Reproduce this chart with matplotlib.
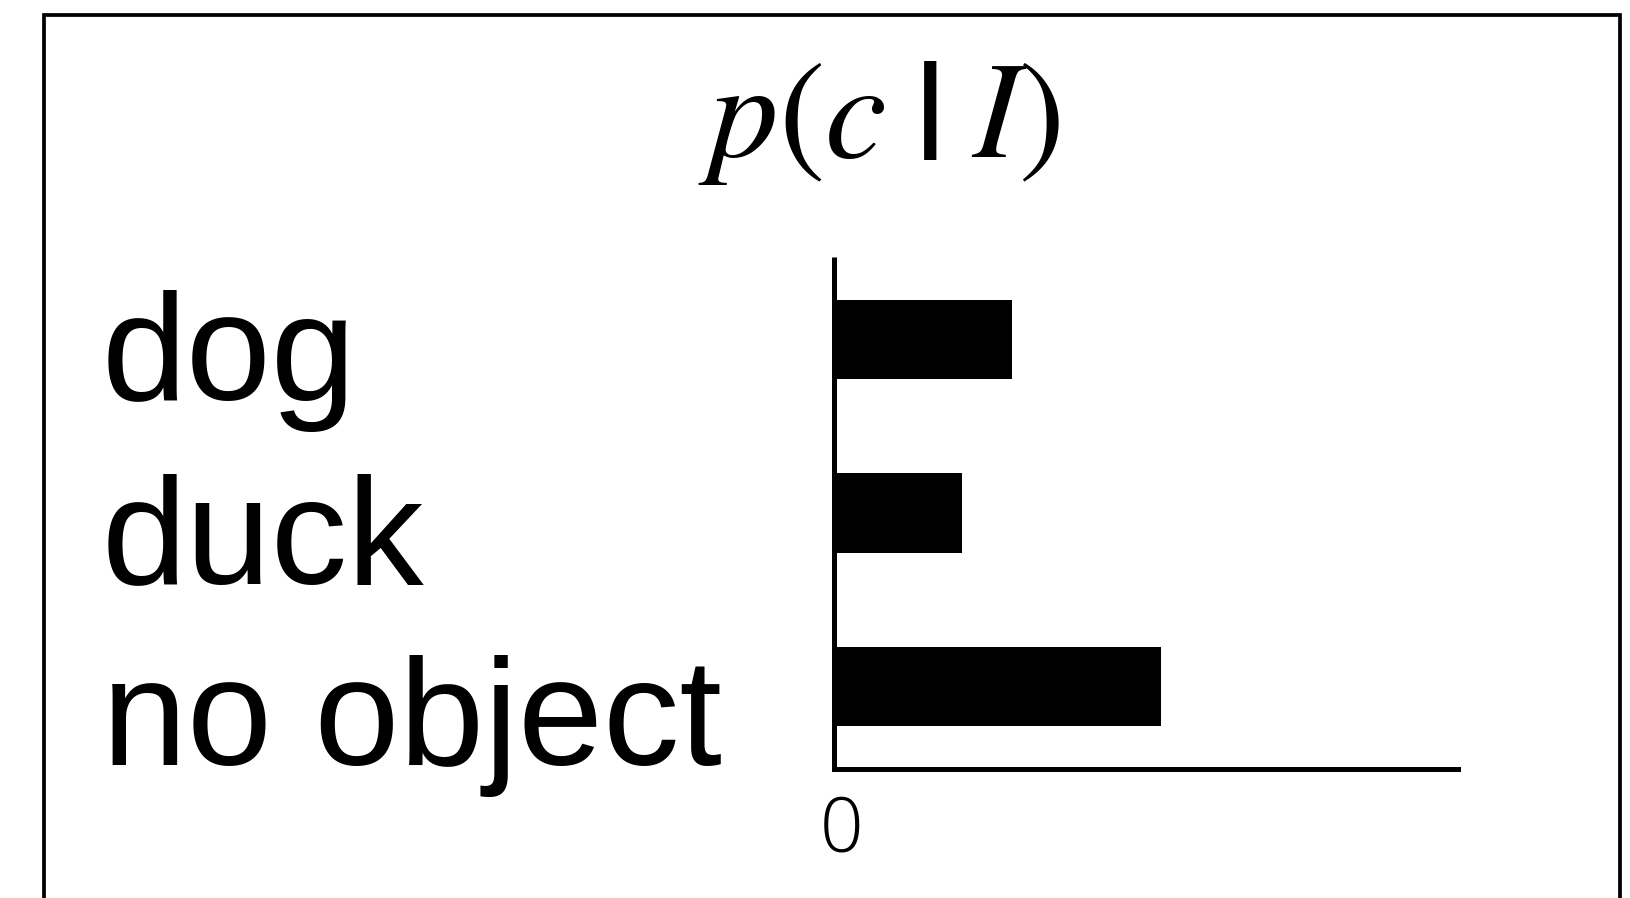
import matplotlib
matplotlib.use("Agg")
import matplotlib.pyplot as plt
import matplotlib.patches as mpatches
from matplotlib.transforms import ScaledTranslation

categories = ["dog", "duck", "no object"]
probs = [0.286, 0.205, 0.524]
xtick_vals = [0]
xtick_labels = ["0"]
title_text = r"$p(c\;\mathbf{|}\;I)$"

plt.rcParams["mathtext.fontset"] = "stix"

W, H = 1630, 898
fig = plt.figure(figsize=(W / 100, H / 100), dpi=100)
fig.patch.set_facecolor("white")

ax = fig.add_axes([833.7 / W, 1 - 769.2 / H, (1458.4 - 833.7) / W, (769.2 - 256.8) / H])
ypos = list(range(len(categories)))
ax.barh(ypos, probs, height=0.457, color="black", edgecolor="none")
ax.set_xlim(0, 1)
ax.set_ylim(2.48, -0.48)

for s in ["top", "right"]:
    ax.spines[s].set_visible(False)
for s in ["left", "bottom"]:
    ax.spines[s].set_linewidth(3.6)
ax.spines["left"].set_capstyle("butt")
ax.spines["bottom"].set_capstyle("projecting")

ax.set_yticks(ypos)
ax.set_yticklabels(categories, fontsize=110, family=["Liberation Sans", "DejaVu Sans"])
ax.tick_params(axis="y", length=0, pad=(833.7 - 102) * 0.72)
label_drop = [0.60, 0.70, 0.79]  # inches below tick, layout only
for lab, d in zip(ax.get_yticklabels(), label_drop):
    lab.set_horizontalalignment("left")
    lab.set_verticalalignment("baseline")
    lab.set_transform(lab.get_transform() + ScaledTranslation(0, -d, fig.dpi_scale_trans))

ax.set_xticks(xtick_vals)
ax.set_xticklabels(xtick_labels, fontsize=55, family=["Open Sans", "DejaVu Sans"], fontweight="light")
ax.tick_params(axis="x", length=0, pad=18)
for lab in ax.get_xticklabels():
    lab.set_transform(lab.get_transform() + ScaledTranslation(0.083, 0, fig.dpi_scale_trans))

fig.text(879 / W, 1 - 157 / H, title_text, fontsize=100, ha="center", va="baseline")

rect = mpatches.Rectangle((44 / W, -0.1), (1620 - 44) / W, 1 - 15 / H + 0.1,
                          transform=fig.transFigure, fill=False, lw=2.7,
                          edgecolor="black", clip_on=False)
fig.patches.append(rect)

fig.savefig("out.png", dpi=100)
